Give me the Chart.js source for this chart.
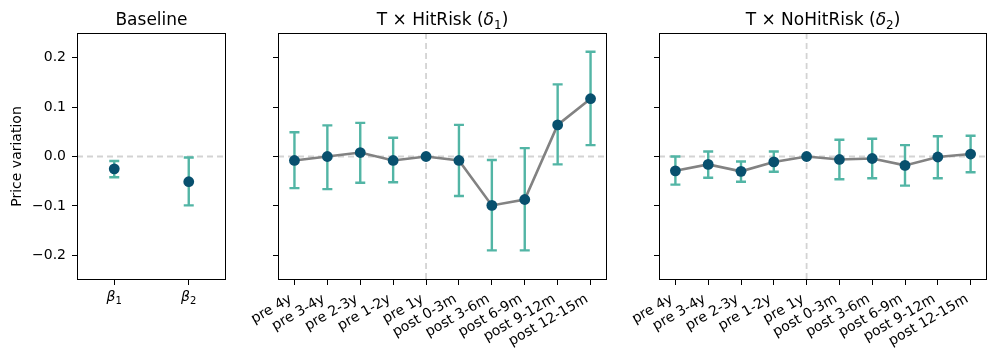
<!DOCTYPE html>
<html>
<head>
<meta charset="utf-8">
<script src="https://cdn.jsdelivr.net/npm/chart.js@4.4.1/dist/chart.umd.min.js"></script>
<style>
  body { margin: 0; background: #fff; width: 997px; height: 361px; overflow: hidden; position: relative; }
  .panel { position: absolute; top: 0; height: 361px; }
</style>
</head>
<body>
<div class="panel" style="left:0"><canvas id="baseChart" width="240" height="361"></canvas></div>
<div class="panel" style="left:240px"><canvas id="hitChart" width="380" height="361"></canvas></div>
<div class="panel" style="left:620px"><canvas id="noHitChart" width="377" height="361"></canvas></div>
<script>
// Baseline coefficients
const baseLabels = ['β1', 'β2'];
const baseValues = [-0.025, -0.051];
const baseLower = [-0.042, -0.099];
const baseUpper = [-0.009, -0.002];

// Event-study periods
const periods = ['pre 4y', 'pre 3-4y', 'pre 2-3y', 'pre 1-2y', 'pre 1y',
                 'post 0-3m', 'post 3-6m', 'post 6-9m', 'post 9-12m', 'post 12-15m'];

// T x HitRisk (delta 1)
const hitValues = [-0.008, 0.000, 0.008, -0.008, 0.000, -0.008, -0.099, -0.087, 0.064, 0.117];
const hitLower = [-0.064, -0.066, -0.053, -0.052, null, -0.080, -0.190, -0.190, -0.016, 0.023];
const hitUpper = [0.049, 0.063, 0.068, 0.038, null, 0.064, -0.007, 0.017, 0.146, 0.212];

// T x NoHitRisk (delta 2)
const noHitValues = [-0.029, -0.016, -0.030, -0.011, 0.000, -0.006, -0.004, -0.018, -0.001, 0.005];
const noHitLower = [-0.057, -0.043, -0.051, -0.031, null, -0.046, -0.044, -0.059, -0.044, -0.032];
const noHitUpper = [0.000, 0.010, -0.010, 0.010, null, 0.034, 0.036, 0.023, 0.041, 0.042];

const yTicks = [-0.2, -0.1, 0.0, 0.1, 0.2];
const yMin = -0.25;
const yMax = 0.25;

const FONT = '"DejaVu Sans", sans-serif';
const POINT_COLOR = '#08506e';
const ERR_COLOR = '#52b5a5';
const LINE_COLOR = '#828282';
const REF_COLOR = '#d3d3d3';

// draw a run of text pieces (for mathtext-like titles / labels)
function drawPieces(ctx, pieces, cx, y) {
    let total = 0;
    pieces.forEach(p => { ctx.font = p.font; p.w = ctx.measureText(p.text).width; total += p.w; });
    let x = cx - total / 2;
    ctx.textAlign = 'left';
    ctx.textBaseline = 'alphabetic';
    ctx.fillStyle = '#000';
    pieces.forEach(p => {
        ctx.font = p.font;
        ctx.fillText(p.text, x, y + (p.dy || 0));
        x += p.w;
    });
}

const decorPlugin = {
    id: 'decor',
    beforeDatasetsDraw(chart, args, opts) {
        const {ctx, chartArea} = chart;
        const x = chart.scales.x, y = chart.scales.y;
        ctx.save();
        ctx.strokeStyle = REF_COLOR;
        ctx.lineWidth = 1.8;
        ctx.setLineDash([6, 4]);
        const y0 = y.getPixelForValue(0);
        ctx.beginPath();
        ctx.moveTo(chartArea.left, y0);
        ctx.lineTo(chartArea.right, y0);
        ctx.stroke();
        if (opts.refIndex != null) {
            const xr = x.getPixelForValue(opts.refIndex);
            ctx.beginPath();
            ctx.moveTo(xr, chartArea.top);
            ctx.lineTo(xr, chartArea.bottom);
            ctx.stroke();
        }
        ctx.restore();
    },
    afterDatasetDraw(chart, args, opts) {
        // error bars go on top of the connecting line, under the markers
        if (args.index !== 1) return;
        const {ctx} = chart;
        const x = chart.scales.x, y = chart.scales.y;
        ctx.save();
        ctx.strokeStyle = ERR_COLOR;
        ctx.lineWidth = 2.4;
        opts.lower.forEach((lo, i) => {
            const hi = opts.upper[i];
            if (lo == null || hi == null) return;
            const px = x.getPixelForValue(i);
            const pLo = y.getPixelForValue(lo);
            const pHi = y.getPixelForValue(hi);
            ctx.beginPath();
            ctx.moveTo(px, pLo); ctx.lineTo(px, pHi);
            ctx.moveTo(px - 5, pLo); ctx.lineTo(px + 5, pLo);
            ctx.moveTo(px - 5, pHi); ctx.lineTo(px + 5, pHi);
            ctx.stroke();
        });
        ctx.restore();
    },
    afterDraw(chart, args, opts) {
        const {ctx, chartArea} = chart;
        const x = chart.scales.x;
        ctx.save();
        ctx.strokeStyle = '#000';
        ctx.lineWidth = 1;
        ctx.strokeRect(Math.round(chartArea.left) + 0.5, Math.round(chartArea.top) + 0.5,
                       Math.round(chartArea.right - chartArea.left) - 1, Math.round(chartArea.bottom - chartArea.top) - 1);
        drawPieces(ctx, opts.title, (chartArea.left + chartArea.right) / 2, chartArea.top - 8);

        if (opts.mathLabels) {
            opts.mathLabels.forEach((lab, i) => {
                drawPieces(ctx, [
                    {text: lab[0], font: 'italic 14px ' + FONT},
                    {text: lab.slice(1), font: '10px ' + FONT, dy: 3}
                ], x.getPixelForValue(i), chartArea.bottom + 21);
            });
        } else {
            // rotated labels, right edge of the rotated box at the tick (like ha='right')
            const h = 16.3, asc = 13;
            const top = chartArea.bottom + 10;
            ctx.font = '14px ' + FONT;
            ctx.fillStyle = '#000';
            ctx.textAlign = 'right';
            ctx.textBaseline = 'alphabetic';
            chart.data.labels.forEach((lab, i) => {
                ctx.save();
                ctx.translate(x.getPixelForValue(i) - h * 0.5, top);
                ctx.rotate(-Math.PI / 6);
                ctx.fillText(lab, 0, asc);
                ctx.restore();
            });
        }
        ctx.restore();
    }
};

function fmtTick(v) {
    return v.toFixed(1).replace('-', '\u2212');
}

function makeChart(id, o) {
    new Chart(document.getElementById(id), {
        type: 'line',
        data: {
            labels: o.labels,
            datasets: [{
                data: o.values,
                showLine: false,
                pointRadius: 5.4,
                pointBackgroundColor: POINT_COLOR,
                pointBorderWidth: 0
            }, {
                data: o.values,
                showLine: o.showLine,
                borderColor: LINE_COLOR,
                borderWidth: 2.6,
                pointRadius: 0
            }]
        },
        plugins: [decorPlugin],
        options: {
            responsive: false,
            animation: false,
            events: [],
            layout: { padding: { top: 33, right: o.padRight, left: 0, bottom: 0 } },
            scales: {
                x: {
                    offset: true,
                    border: { display: false },
                    grid: { drawOnChartArea: false, drawTicks: true, tickLength: 5, color: '#000', lineWidth: 1 },
                    ticks: {
                        autoSkip: false,
                        minRotation: 0,
                        maxRotation: 0,
                        padding: 2,
                        font: { family: FONT, size: 14 },
                        callback: () => ''
                    },
                    afterFit: s => { s.height = 81; }
                },
                y: {
                    min: yMin,
                    max: yMax,
                    border: { display: false },
                    grid: { drawOnChartArea: false, drawTicks: true, tickLength: 5, color: '#000', lineWidth: 1 },
                    afterBuildTicks: s => { s.ticks = yTicks.map(v => ({ value: v })); },
                    ticks: {
                        padding: 6,
                        color: '#000',
                        font: { family: FONT, size: 14 },
                        callback: v => o.showYLabels ? fmtTick(v) : ''
                    },
                    title: {
                        display: !!o.yTitle,
                        text: o.yTitle || '',
                        color: '#000',
                        font: { family: FONT, size: 14 },
                        padding: { top: 9, bottom: 0 }
                    },
                    afterFit: s => { s.width = o.yWidth; }
                }
            },
            plugins: {
                legend: { display: false },
                tooltip: { enabled: false },
                decor: {
                    refIndex: o.refIndex,
                    lower: o.lower,
                    upper: o.upper,
                    title: o.title,
                    mathLabels: o.mathLabels
                }
            }
        }
    });
}

makeChart('baseChart', {
    labels: baseLabels, values: baseValues, lower: baseLower, upper: baseUpper,
    showLine: false, refIndex: null, mathLabels: baseLabels,
    showYLabels: true, yTitle: 'Price variation', yWidth: 77, padRight: 14,
    title: [{ text: 'Baseline', font: '17px ' + FONT }]
});

makeChart('hitChart', {
    labels: periods, values: hitValues, lower: hitLower, upper: hitUpper,
    showLine: true, refIndex: 4, mathLabels: null,
    showYLabels: false, yTitle: null, yWidth: 38, padRight: 13,
    title: [
        { text: 'T × HitRisk (', font: '17px ' + FONT },
        { text: 'δ', font: 'italic 17px ' + FONT },
        { text: '1', font: '12px ' + FONT, dy: 4 },
        { text: ')', font: '17px ' + FONT }
    ]
});

makeChart('noHitChart', {
    labels: periods, values: noHitValues, lower: noHitLower, upper: noHitUpper,
    showLine: true, refIndex: 4, mathLabels: null,
    showYLabels: false, yTitle: null, yWidth: 39, padRight: 10,
    title: [
        { text: 'T × NoHitRisk (', font: '17px ' + FONT },
        { text: 'δ', font: 'italic 17px ' + FONT },
        { text: '2', font: '12px ' + FONT, dy: 4 },
        { text: ')', font: '17px ' + FONT }
    ]
});
</script>
</body>
</html>
